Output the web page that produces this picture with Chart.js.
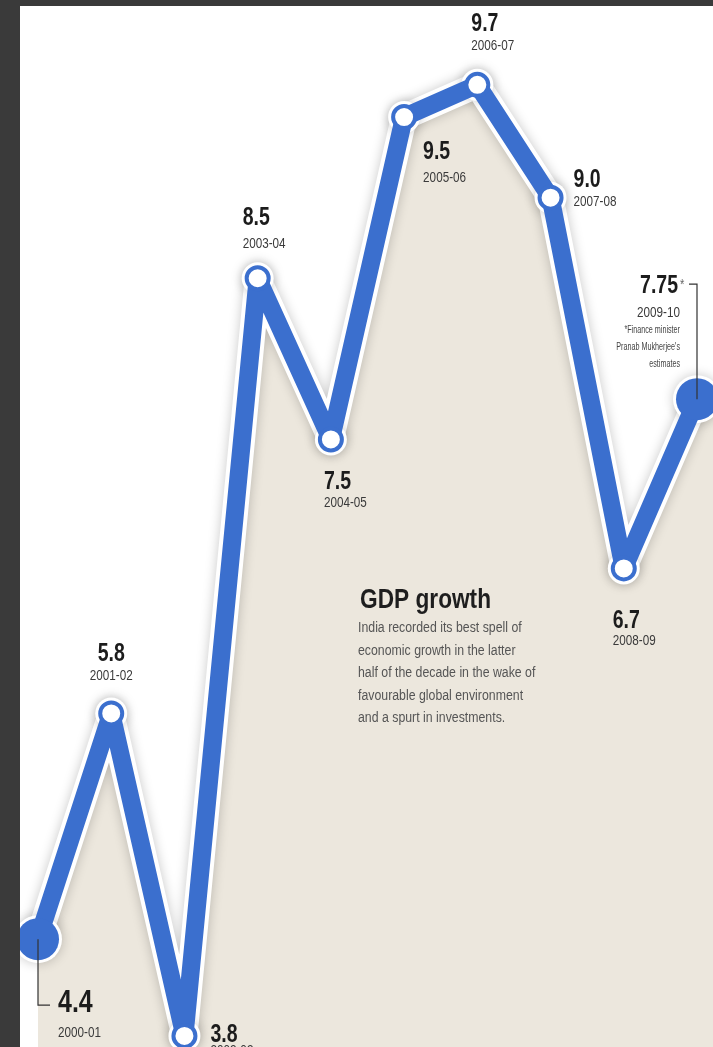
<!DOCTYPE html>
<html>
<head>
<meta charset="utf-8">
<script src="https://cdn.jsdelivr.net/npm/chart.js@4.4.1/dist/chart.umd.min.js"></script>
<style>
  html, body { margin:0; padding:0; background:#3a3a3a; width:713px; height:1047px; overflow:hidden; }
  #gdp { position:absolute; left:20px; top:6px; background:#fff; }
</style>
</head>
<body>
<canvas id="gdp" width="693" height="1041"></canvas>
<script>
// GDP growth, % per fiscal year
const seasons = ['2000-01','2001-02','2002-03','2003-04','2004-05','2005-06','2006-07','2007-08','2008-09','2009-10'];
const growth = [4.4, 5.8, 3.8, 8.5, 7.5, 9.5, 9.7, 9.0, 6.7, 7.75];
const valueText = ['4.4','5.8','3.8','8.5','7.5','9.5','9.7','9.0','6.7','7.75'];
const blurb = [
  'India recorded its best spell of',
  'economic growth in the latter',
  'half of the decade in the wake of',
  'favourable global environment',
  'and a spurt in investments.'
];
const footnote = ['*Finance minister', "Pranab Mukherjee's", 'estimates'];

// where each value/year pair sits relative to its point
const spots = [
  {dx:20, dy:73, gap:25, align:'left', size:32},
  {dx:0, dy:-52, gap:19, align:'center'},
  {dx:26, dy:6, gap:13, align:'left'},
  {dx:-15, dy:-53, gap:23, align:'left'},
  {dx:-7, dy:50, gap:18, align:'left'},
  {dx:19, dy:42, gap:23, align:'left'},
  {dx:-6, dy:-54, gap:19, align:'left'},
  {dx:23, dy:-11, gap:19, align:'left'},
  {dx:-11, dy:60, gap:17, align:'left'},
  {dx:-19, dy:-106, gap:24, align:'right'}
];

const BLUE = '#3b6fce';
const BEIGE = '#ece7dd';
const FAM = "'Liberation Sans', Arial, sans-serif";
const last = growth.length - 1;

function txt(ctx, s, x, y, font, color, align, sx){
  ctx.save();
  ctx.translate(x, y);
  ctx.scale(sx, 1);
  ctx.font = font;
  ctx.fillStyle = color;
  ctx.textAlign = align;
  ctx.textBaseline = 'alphabetic';
  ctx.fillText(s, 0, 0);
  ctx.restore();
}

// beige keeps going past the last point to the right edge
const edgeFill = {
  id: 'edgeFill',
  beforeDatasetsDraw(chart){
    const p = chart.getDatasetMeta(1).data[last];
    const ctx = chart.ctx;
    ctx.save();
    ctx.fillStyle = BEIGE;
    ctx.fillRect(p.x, p.y, chart.width - p.x, chart.height - p.y);
    ctx.restore();
  }
};

const shadowPlugin = {
  id: 'lineShadow',
  beforeDatasetDraw(chart, args){
    if(args.index !== 0) return;
    const ctx = chart.ctx;
    ctx.save();
    ctx.shadowColor = 'rgba(0,0,0,0.22)';
    ctx.shadowBlur = 12;
  },
  afterDatasetDraw(chart, args){
    if(args.index === 0) chart.ctx.restore();
  }
};

const labelPlugin = {
  id: 'gdpLabels',
  afterDatasetsDraw(chart){
    const ctx = chart.ctx;
    const pts = chart.getDatasetMeta(1).data;

    // leader lines for the first and last points
    ctx.save();
    ctx.strokeStyle = '#333';
    ctx.lineWidth = 1.2;
    ctx.beginPath();
    ctx.moveTo(pts[0].x, pts[0].y);
    ctx.lineTo(pts[0].x, pts[0].y + 66);
    ctx.lineTo(pts[0].x + 12, pts[0].y + 66);
    ctx.moveTo(pts[last].x - 8, pts[last].y - 115);
    ctx.lineTo(pts[last].x, pts[last].y - 115);
    ctx.lineTo(pts[last].x, pts[last].y);
    ctx.stroke();
    ctx.restore();

    pts.forEach((p, i) => {
      const s = spots[i];
      const x = p.x + s.dx, y = p.y + s.dy;
      txt(ctx, valueText[i], x, y, `bold ${s.size || 25}px ${FAM}`, '#1c1c1c', s.align, 0.78);
      txt(ctx, seasons[i], x + (s.align === 'right' ? 2 : 0), y + s.gap, `15px ${FAM}`, '#3a3a3a', s.align, 0.78);
    });

    const p9 = pts[last];
    txt(ctx, '*', p9.x - 17, p9.y - 110, `14px ${FAM}`, '#666', 'left', 0.8);
    footnote.forEach((line, k) => {
      txt(ctx, line, p9.x - 17, p9.y - 66 + k * 17, `10px ${FAM}`, '#444', 'right', 0.72);
    });

    txt(ctx, 'GDP growth', 340, 602, `bold 28px ${FAM}`, '#1e1e1e', 'left', 0.81);
    blurb.forEach((line, k) => {
      txt(ctx, line, 338, 626 + k * 22.5, `14px ${FAM}`, '#555', 'left', 0.88);
    });
  }
};

const bigOr = (big, small) => growth.map((_, i) => (i === 0 || i === last) ? big : small);

new Chart(document.getElementById('gdp'), {
  type: 'line',
  data: {
    labels: seasons,
    datasets: [
      {
        // white casing under the blue line
        data: growth,
        borderColor: '#fff',
        borderWidth: 26,
        borderJoinStyle: 'round',
        pointRadius: bigOr(24, 16),
        pointBackgroundColor: '#fff',
        pointBorderWidth: 0,
        fill: false,
        tension: 0,
        clip: false,
        order: 2
      },
      {
        data: growth,
        borderColor: BLUE,
        borderWidth: 18,
        borderJoinStyle: 'round',
        backgroundColor: BEIGE,
        fill: 'start',
        pointRadius: bigOr(21, 11),
        pointBackgroundColor: bigOr(BLUE, '#fff'),
        pointBorderColor: BLUE,
        pointBorderWidth: bigOr(0, 4),
        tension: 0,
        clip: false,
        order: 1
      }
    ]
  },
  options: {
    responsive: false,
    animation: false,
    devicePixelRatio: 1,
    layout: { autoPadding: false, padding: { left: 18, right: 16, top: 0, bottom: 0 } },
    plugins: {
      legend: { display: false },
      tooltip: { enabled: false },
      filler: { drawTime: 'beforeDatasetsDraw' }
    },
    scales: {
      x: { display: false, offset: false },
      y: { display: false, min: 3.731, max: 10.189 }
    }
  },
  plugins: [edgeFill, shadowPlugin, labelPlugin]
});
</script>
</body>
</html>
